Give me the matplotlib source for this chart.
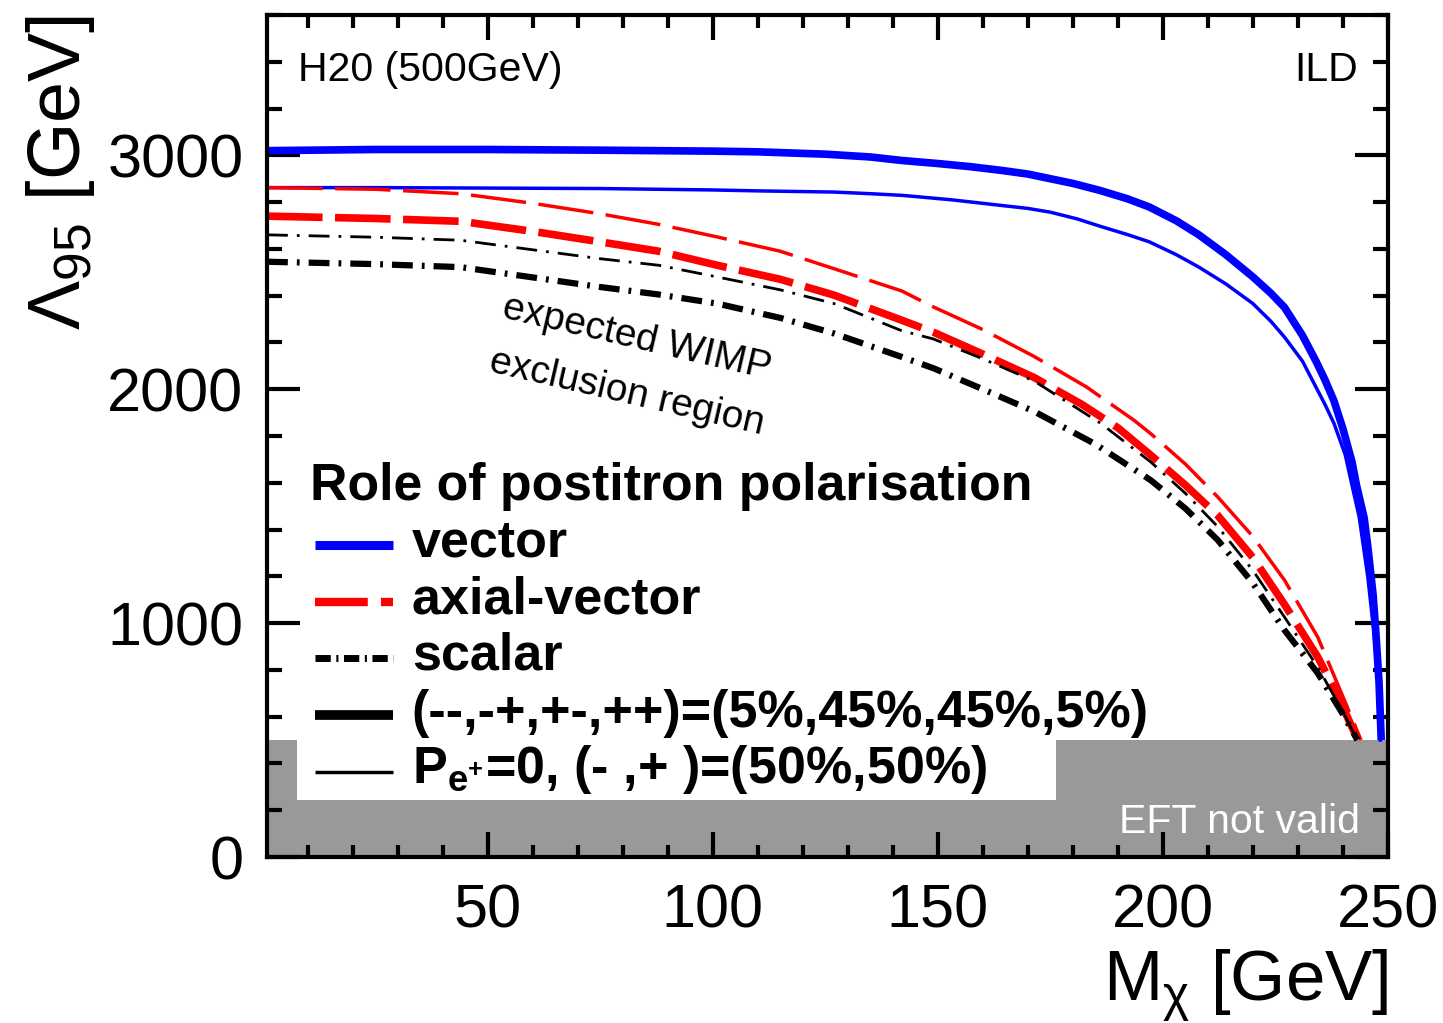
import matplotlib.pyplot as plt
from matplotlib.patches import Rectangle
from matplotlib.ticker import MultipleLocator

plt.rcParams['font.family'] = ['Liberation Sans', 'DejaVu Sans']
plt.rcParams['mathtext.fontset'] = 'custom'
plt.rcParams['mathtext.rm'] = 'Liberation Sans'
plt.rcParams['mathtext.it'] = 'Liberation Sans:italic'
plt.rcParams['mathtext.bf'] = 'Liberation Sans:bold'
plt.rcParams['lines.scale_dashes'] = False

# expected 95% CL limits on Lambda [GeV] vs WIMP mass [GeV]
# vector, polarised positrons (--,-+,+-,++)=(5%,45%,45%,5%)
m_vec_pol = [1, 25, 50, 75, 100, 110, 125, 135, 142, 150, 157, 164, 170, 175,
             180, 186, 192, 197, 203, 208, 214, 220, 224, 227, 231, 234, 236,
             238, 240, 242, 243, 244.7, 245.5, 246.7, 247.3, 248, 248.5]
l_vec_pol = [3020, 3025, 3025, 3022, 3018, 3015, 3005, 2993, 2978, 2965, 2952,
             2936, 2920, 2900, 2880, 2850, 2815, 2779, 2720, 2660, 2575, 2480,
             2410, 2350, 2230, 2120, 2040, 1950, 1830, 1690, 1590, 1450, 1330,
             1120, 960, 750, 500]
# vector, unpolarised positrons
m_vec_unpol = [1, 25, 50, 75, 100, 110, 127, 135, 142, 153, 164, 170, 175, 181,
               186, 192, 197, 203, 208, 214, 220, 224, 227, 231, 234, 236, 238,
               240.5, 242, 243.6, 245.5, 246.9, 247.8, 248.3]
l_vec_unpol = [2862, 2862, 2860, 2858, 2852, 2848, 2843, 2836, 2829, 2810, 2786,
               2773, 2757, 2728, 2697, 2662, 2630, 2575, 2522, 2450, 2366, 2290,
               2223, 2120, 2009, 1935, 1854, 1720, 1590, 1454, 1200, 957, 750,
               500]
# axial-vector
m_ax_pol = [1, 25, 44, 60, 75, 88, 101, 115, 127, 142, 149, 160, 171.4, 182,
            190, 197.3, 205, 212.2, 220, 227, 234.4, 238, 240, 243.3]
l_ax_pol = [2740, 2730, 2718, 2675, 2630, 2590, 2530, 2470, 2402, 2295, 2244,
            2150, 2050, 1935, 1835, 1718, 1590, 1460, 1280, 1080, 855, 720, 640,
            500]
m_ax_unpol = [1, 25, 44, 60, 75, 88, 101, 115, 127, 142, 149, 160, 171.4, 183,
              193.6, 197.3, 205, 212.2, 220, 227, 234.4, 240.3, 244]
l_ax_unpol = [2862, 2855, 2836, 2795, 2750, 2705, 2651, 2590, 2515, 2420, 2352,
              2255, 2140, 2010, 1867, 1810, 1680, 1539, 1370, 1184, 940, 671,
              500]
# scalar
m_sc_pol = [1, 25, 44, 75, 88, 101, 115, 127, 142, 149, 160, 171.4, 185, 197.3,
            205, 212.2, 220, 227, 234.4, 240, 243.2]
l_sc_pol = [2545, 2535, 2522, 2437, 2405, 2366, 2305, 2238, 2138, 2090, 2000,
            1905, 1765, 1611, 1490, 1355, 1170, 970, 786, 610, 500]
m_sc_unpol = [1, 25, 44, 75, 88, 101, 115, 127, 142, 149, 160, 171.4, 186.2,
              197.3, 205, 212.2, 220, 227, 234.4, 240, 243.2]
l_sc_unpol = [2660, 2650, 2637, 2558, 2530, 2480, 2425, 2366, 2250, 2215, 2130,
              2035, 1854, 1689, 1555, 1412, 1225, 1026, 812, 620, 500]

eft_limit = 500
x_range = (1, 250)
y_range = (0, 3600)

BLUE = '#0000ff'
RED = '#ff0000'
BLACK = '#000000'
GREY = '#999999'
DASH = (0, (40, 9))
DASHDOT = (0, (15, 6.5, 2, 6.5))

fig = plt.figure(figsize=(14.43, 10.23), dpi=100)
ax = fig.add_axes([267 / 1443, 1 - 857 / 1023, 1121 / 1443, 842 / 1023])

# EFT validity band, with the legend box cut out of it
ax.fill_between(x_range, 0, eft_limit, color=GREY, lw=0, zorder=1)
ax.add_patch(Rectangle((7.6, 244), 176.3 - 7.6, 1750 - 244, facecolor='white',
                       edgecolor='none', zorder=1.5))

ax.plot(m_vec_pol, l_vec_pol, color=BLUE, lw=5.5, solid_capstyle='butt',
        solid_joinstyle='round')
ax.plot(m_vec_unpol, l_vec_unpol, color=BLUE, lw=2.5, solid_joinstyle='round')
ax.plot(m_ax_unpol, l_ax_unpol, color=RED, lw=2.5, ls=DASH, dash_capstyle='butt')
ax.plot(m_ax_pol, l_ax_pol, color=RED, lw=5.5, ls=DASH, dash_capstyle='butt')
ax.plot(m_sc_unpol, l_sc_unpol, color=BLACK, lw=2, ls=DASHDOT, dash_capstyle='butt')
ax.plot(m_sc_pol, l_sc_pol, color=BLACK, lw=4.5, ls=DASHDOT, dash_capstyle='butt')

ax.set_xlim(*x_range)
ax.set_ylim(*y_range)
ax.xaxis.set_major_locator(MultipleLocator(50))
ax.xaxis.set_minor_locator(MultipleLocator(10))
ax.yaxis.set_major_locator(MultipleLocator(1000))
ax.yaxis.set_minor_locator(MultipleLocator(200))
ax.set_xticks([50, 100, 150, 200, 250])

for sp in ax.spines.values():
    sp.set_linewidth(3)
ax.tick_params(which='both', direction='in', top=True, right=True, width=3)
ax.tick_params(axis='y', which='major', length=24, labelsize=44, pad=17)
ax.tick_params(axis='y', which='minor', length=11)
ax.tick_params(axis='x', which='major', length=18, labelsize=44, pad=19)
ax.tick_params(axis='x', which='minor', length=9)

ax.set_xlabel(r'M$_{\mathrm{\chi}}$ [GeV]', fontsize=51, ha='right', va='baseline')
ax.xaxis.set_label_coords(1.0, -0.1698)
ax.set_ylabel('Λ$_{95}$ [GeV]', fontsize=53, ha='right', va='baseline')
ax.yaxis.set_label_coords(-0.1668, 1.0)

ax.text(0.0277, 0.9212, 'H20 (500GeV)', transform=ax.transAxes, fontsize=29.5,
        va='baseline')
ax.text(0.9732, 0.9212, 'ILD', transform=ax.transAxes, fontsize=29.5,
        ha='right', va='baseline')
ax.text(0.975, 0.0281, 'EFT not valid', transform=ax.transAxes, fontsize=29.5,
        color='white', ha='right', va='baseline', zorder=4)
ax.text(0.3301, 0.6164, 'expected WIMP', transform=ax.transAxes, fontsize=28,
        rotation=-13, rotation_mode='anchor', ha='center', va='center')
ax.text(0.3211, 0.5511, 'exclusion region', transform=ax.transAxes, fontsize=28,
        rotation=-13, rotation_mode='anchor', ha='center', va='center')

# legend drawn by hand inside the white box
ax.text(0.0384, 0.424, 'Role of postitron polarisation', transform=ax.transAxes,
        fontsize=37.4, fontweight='bold', va='baseline', zorder=4)
entries = [
    ('vector', dict(color=BLUE, lw=6.5, solid_capstyle='butt')),
    ('axial-vector', dict(color=RED, lw=6, ls=(0, (38, 9.5, 9, 50)), dash_capstyle='butt')),
    ('scalar', dict(color=BLACK, lw=5, ls=(0, (11, 4, 1.5, 4)), dash_capstyle='butt')),
    ('(--,-+,+-,++)=(5%,45%,45%,5%)', dict(color=BLACK, lw=7, solid_capstyle='butt')),
    (r'$\mathbf{P}_{\mathbf{e}^{\mathbf{+}}}$=0, (- ,+ )=(50%,50%)',
     dict(color=BLACK, lw=2.5, solid_capstyle='butt')),
]
row_y = [0.3705, 0.3032, 0.2359, 0.1686, 0.1013]
for (label, style), y in zip(entries, row_y):
    ax.plot([0.0428, 0.1124], [y, y], transform=ax.transAxes, clip_on=False,
            zorder=4, **style)
    ax.text(0.1291, y - 0.0138, label, transform=ax.transAxes, fontsize=37.5,
            fontweight='bold', va='baseline', zorder=4)

fig.savefig('out.png', dpi=100)
